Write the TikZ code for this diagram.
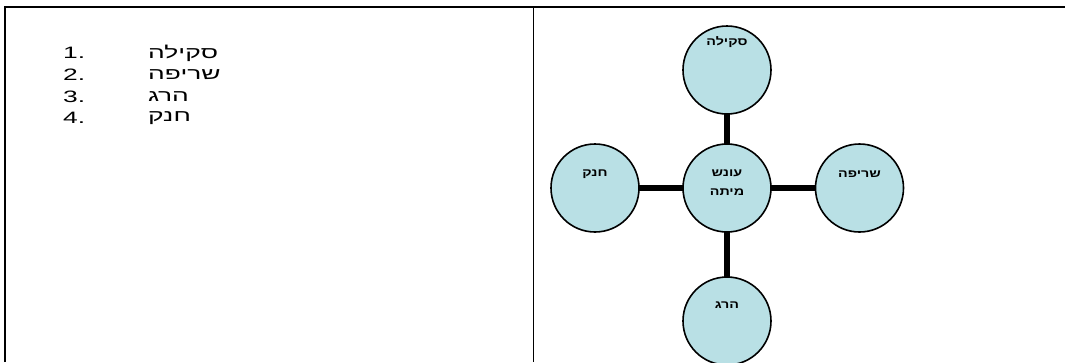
\documentclass[tikz,border=0pt]{standalone}
\usepackage{fontspec}
\setmainfont{Liberation Sans}
\newfontfamily\hebwide[Script=Hebrew,FakeStretch=1.6]{Liberation Sans}
\newfontfamily\numwide[FakeStretch=1.6]{Liberation Sans}
\newfontfamily\hebbub[Script=Hebrew,FakeStretch=1.3]{Liberation Sans}
\TeXXeTstate=1
\usetikzlibrary{backgrounds}
\definecolor{circfill}{RGB}{185,224,229}
\tikzset{
  bubble/.style={circle, draw=black, line width=1.6pt, fill=circfill, minimum size=88pt, inner sep=0pt},
  bubtext/.style={font=\hebbub\bfseries\fontsize{11}{19}\selectfont, align=center, inner sep=0pt},
  spoke/.style={line width=6pt, draw=black},
  listnum/.style={font=\numwide\fontsize{16.5}{20}\selectfont, anchor=west, inner sep=0pt},
  listword/.style={font=\hebwide\fontsize{16.5}{20}\selectfont, anchor=west, inner sep=0pt},
  rule/.style={draw=black}
}
\begin{document}
\begin{tikzpicture}[x=1pt,y=-1pt]
\useasboundingbox (0,0) rectangle (1065,362);
% table rules
\draw[rule, line width=2pt] (5,362) -- (5,7) -- (1065,7);
\draw[rule, line width=1pt] (533,7) -- (533,362);
% list
\node[listnum] (n1) at (63,53) {1.};
\node[listnum] (n2) at (63,75) {2.};
\node[listnum] (n3) at (63,97) {3.};
\node[listnum] (n4) at (63,118) {4.};
\node[listword] (w1) at (148,53) {\beginR סקילה\endR};
\node[listword] (w2) at (148,75) {\beginR שריפה\endR};
\node[listword] (w3) at (148,97) {\beginR הרג\endR};
\node[listword] (w4) at (148,118) {\beginR חנק\endR};
% bubbles
\node[bubble] (c) at (727,188) {};
\node[bubble] (top) at (727,70) {};
\node[bubble] (bot) at (727,321) {};
\node[bubble] (lft) at (595,188) {};
\node[bubble] (rgt) at (859.5,188) {};
\begin{scope}[on background layer]
\fill[white] (0,0) rectangle (1065,362);
\draw[spoke] (c.center) -- (top.center);
\draw[spoke] (c.center) -- (bot.center);
\draw[spoke] (c.center) -- (lft.center);
\draw[spoke] (c.center) -- (rgt.center);
\end{scope}
\node[bubtext] (tc) at (727,182.5) {\beginR עונש\endR\\\beginR מיתה\endR};
\node[bubtext] (ttop) at (727,42) {\beginR סקילה\endR};
\node[bubtext] (tbot) at (727,305) {\beginR הרג\endR};
\node[bubtext] (tlft) at (595,174) {\beginR חנק\endR};
\node[bubtext] (trgt) at (859.5,174) {\beginR שריפה\endR};
\end{tikzpicture}
\end{document}
